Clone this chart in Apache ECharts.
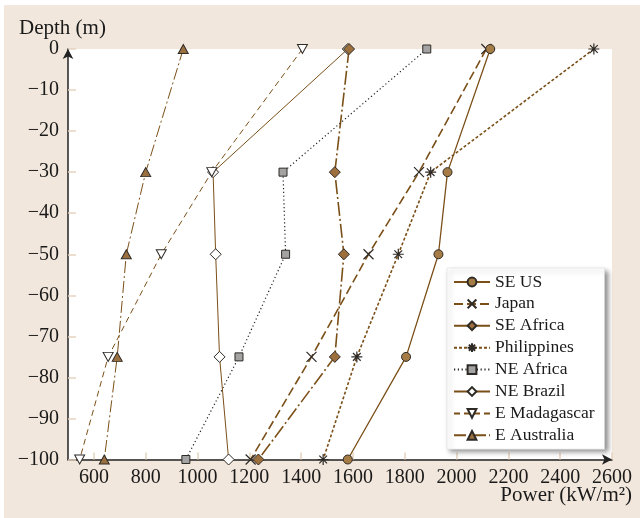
<!DOCTYPE html>
<html>
<head>
<meta charset="utf-8">
<script src="https://cdn.jsdelivr.net/npm/echarts@6/dist/echarts.min.js"></script>
<style>
html,body{margin:0;padding:0;background:#fff;}
#chart{width:640px;height:518px;background:linear-gradient(#f2e7dc,#f2e7dc) 4px 5px / 636px 513px no-repeat,#fff;}
</style>
</head>
<body>
<div id="chart"></div>
<script>
const depths = [0, -30, -50, -75, -100];
const seUS = [2130, 1965, 1930, 1805, 1580];
const japan = [2115, 1855, 1660, 1440, 1205];
const seAfrica = [1585, 1530, 1565, 1530, 1235];
const philippines = [2530, 1900, 1775, 1615, 1485];
const neAfrica = [1885, 1330, 1340, 1160, 955];
const neBrazil = [1580, 1060, 1070, 1085, 1120];
const eMadagascar = [1405, 1055, 860, 655, 545];
const eAustralia = [945, 800, 725, 690, 640];
const xTicks = [600, 800, 1000, 1200, 1400, 1600, 1800, 2000, 2200, 2400, 2600];

const FONT = "'Liberation Serif','Times New Roman',serif";
const LINE = '#7b4f18';
const EDGE = '#2e2a26';
const TICK = '#e6d4bf';

function pts(vals){ return vals.map((v,i)=>[v, depths[i]]); }

const defs = [
  {name:'SE US', data:seUS, symbol:'circle', size:9, fill:'#a67c46', lw:1.3, type:'solid', lc:LINE, z:4},
  {name:'Japan', data:japan, symbol:'path://M0,0L10,10M10,0L0,10', size:10, fill:'none', lw:1.6, type:[9,4], lc:LINE, z:3},
  {name:'SE Africa', data:seAfrica, symbol:'diamond', size:11, fill:'#9c6f3c', lw:1.6, type:[14,3,2,3], lc:LINE, z:5},
  {name:'Philippines', data:philippines, symbol:'path://M5,0L5,10M0,5L10,5M1.5,1.5L8.5,8.5M8.5,1.5L1.5,8.5', size:11, fill:'none', lw:1.6, type:[3,2], lc:LINE, z:3},
  {name:'NE Africa', data:neAfrica, symbol:'rect', size:8, fill:'#a3a3a3', lw:1.2, type:[1.2,2.6], lc:'#222', z:3},
  {name:'NE Brazil', data:neBrazil, symbol:'diamond', size:11, fill:'#ffffff', lw:1, type:'solid', lc:LINE, z:3},
  {name:'E Madagascar', data:eMadagascar, symbol:'path://M0,0L10,0L5,9Z', size:[10,9], fill:'#ffffff', lw:1, type:[6,4], lc:LINE, z:3},
  {name:'E Australia', data:eAustralia, symbol:'triangle', size:[10,9], fill:'#9b7040', lw:1, type:[12,3,2,3], lc:LINE, z:3}
];

const series = defs.map(d => ({
  name: d.name,
  type: 'line',
  data: pts(d.data),
  symbol: d.symbol,
  symbolSize: d.size,
  showSymbol: true,
  lineStyle: {color: d.lc, width: d.lw, type: d.type},
  itemStyle: {color: d.fill === 'none' ? 'rgba(0,0,0,0)' : d.fill, borderColor: EDGE, borderWidth: d.fill === 'none' ? 1.2 : 1},
  z: d.z
}));

const chart = echarts.init(document.getElementById('chart'), null, {renderer:'canvas'});
chart.setOption({
  animation: false,
  textStyle: {fontFamily: FONT},
  grid: {left: 68, right: 28, top: 49, bottom: 58.5, show: true, backgroundColor: '#ffffff', borderWidth: 0},
  xAxis: {
    type: 'value', min: 500, max: 2600, position: 'bottom',
    axisLine: {show: true, onZero: false, lineStyle: {color: '#222', width: 1.5}, symbol: ['none','arrow'], symbolSize: [8,10]},
    axisTick: {show: true, inside: true, length: 7, lineStyle: {color: TICK, width: 1.5}, customValues: xTicks},
    axisLabel: {show: true, color: '#1a1a1a', fontSize: 20, fontFamily: FONT, margin: 8, customValues: xTicks,
      formatter: v => String(v)},
    splitLine: {show: false}
  },
  yAxis: {
    type: 'value', min: -100, max: 0, interval: 10, position: 'left',
    axisLine: {show: true, onZero: false, lineStyle: {color: '#222', width: 1.5}, symbol: ['none','arrow'], symbolSize: [8,10]},
    axisTick: {show: true, inside: true, length: 8, lineStyle: {color: TICK, width: 1.5}},
    axisLabel: {show: true, color: '#1a1a1a', fontSize: 20, fontFamily: FONT, margin: 9,
      formatter: v => v < 0 ? '\u2212' + Math.abs(v) : String(v)},
    splitLine: {show: false}
  },
  legend: {
    orient: 'vertical', left: 447, top: 268,
    padding: [5, 10, 5, 6],
    itemWidth: 36, itemHeight: 11, itemGap: 3.9,
    backgroundColor: '#ffffff',
    borderColor: '#d8d8d8', borderWidth: 0.5,
    shadowBlur: 5, shadowOffsetX: 3, shadowOffsetY: 3, shadowColor: 'rgba(0,0,0,0.45)',
    textStyle: {fontSize: 17.5, lineHeight: 18, color: '#1a1a1a', fontFamily: FONT},
    data: defs.map(d => d.name)
  },
  graphic: [
    {type: 'text', left: 19, top: 18, silent: true,
      style: {text: 'Depth (m)', font: '21px ' + FONT, fill: '#1a1a1a'}},
    {type: 'text', right: 8, top: 485, silent: true,
      style: {text: 'Power (kW/m\u00B2)', font: '21px ' + FONT, fill: '#1a1a1a'}}
  ],
  series: series
});
</script>
</body>
</html>
